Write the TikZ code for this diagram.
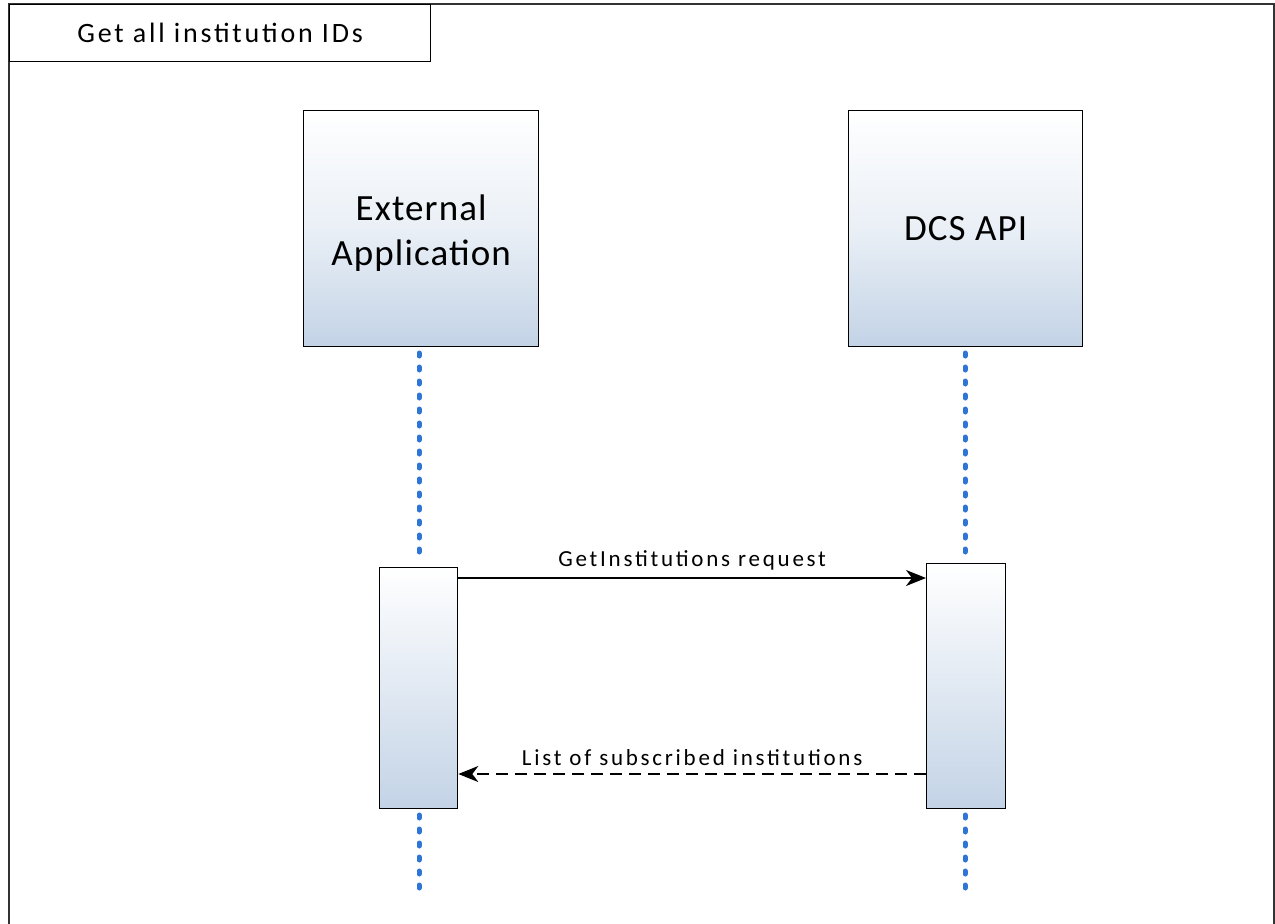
\documentclass[tikz,border=0pt]{standalone}
\usepackage{fontspec}
\setmainfont{Carlito}
\usetikzlibrary{arrows.meta}
\definecolor{gbot}{HTML}{C3D3E6}
\definecolor{lifeblue}{HTML}{2E75D6}
\definecolor{framegray}{HTML}{333333}
\begin{document}
\begin{tikzpicture}[x=1pt,y=-1pt,
  actbox/.style={draw=black,line width=1.3pt,top color=white,bottom color=gbot},
  partbox/.style={draw=black,line width=1.3pt,anchor=north west,inner sep=0pt},
  parttext/.style={align=center,inner sep=0pt,
    font=\fontsize{37}{45}\selectfont\addfontfeature{LetterSpace=3}},
  lifeline/.style={lifeblue,line width=5pt,line cap=round,dash pattern=on 3pt off 11pt},
  msg/.style={line width=2pt,-{Stealth[length=20pt,width=16pt,inset=6pt]}},
  lbl/.style={font=\fontsize{23}{26}\selectfont\addfontfeature{LetterSpace=12},anchor=south}]
\useasboundingbox (0,0) rectangle (1275,924);
% outer frame
\draw[framegray,line width=2pt] (9,930) -- (9,4) -- (1274,4) -- (1274,930);
\node[draw=black,line width=1.3pt,minimum width=421pt,minimum height=57pt,anchor=north west,inner sep=0pt,
  font=\fontsize{28}{32}\selectfont\addfontfeature{LetterSpace=10}] (title) at (9,4) {Get all institution IDs};
% participants
\shade[top color=white,bottom color=gbot,middle color=gbot!35] (303,110) rectangle (538,346);
\node[partbox,minimum width=235pt,minimum height=236pt] (ext) at (303,110) {};
\node[parttext] (extt) at ([yshift=-4pt]ext.center) {External\\Application};
\shade[top color=white,bottom color=gbot,middle color=gbot!35] (848,110) rectangle (1082,346);
\node[partbox,minimum width=234pt,minimum height=236pt] (dcs) at (848,110) {};
\node[parttext] (dcst) at (dcs.center) {DCS API};
% lifeline coordinates
\coordinate (l1a) at (419,353);
\coordinate (l1b) at (419,560);
\coordinate (l1c) at (419,815);
\coordinate (l1d) at (419,890);
\coordinate (l2a) at (965,353);
\coordinate (l2b) at (965,556);
\coordinate (l2c) at (965,815);
\coordinate (l2d) at (965,890);
\draw[lifeline] (l1a) -- (l1b);
\draw[lifeline] (l1c) -- (l1d);
\draw[lifeline] (l2a) -- (l2b);
\draw[lifeline] (l2c) -- (l2d);
% activation boxes
\node[actbox,minimum width=78pt,minimum height=241pt,anchor=north west,inner sep=0pt] (act1) at (379,567) {};
\node[actbox,minimum width=79pt,minimum height=245pt,anchor=north west,inner sep=0pt] (act2) at (926,563) {};
% messages
\draw[msg] (act1.north east |- 0,578) -- node[lbl,above=3pt]{GetInstitutions request} (act2.north west |- 0,578);
\draw[msg,dashed,dash pattern=on 12pt off 7pt] (act2.north west |- 0,774) -- node[lbl,above=4pt]{List of subscribed institutions} (act1.north east |- 0,774);
\end{tikzpicture}
\end{document}
